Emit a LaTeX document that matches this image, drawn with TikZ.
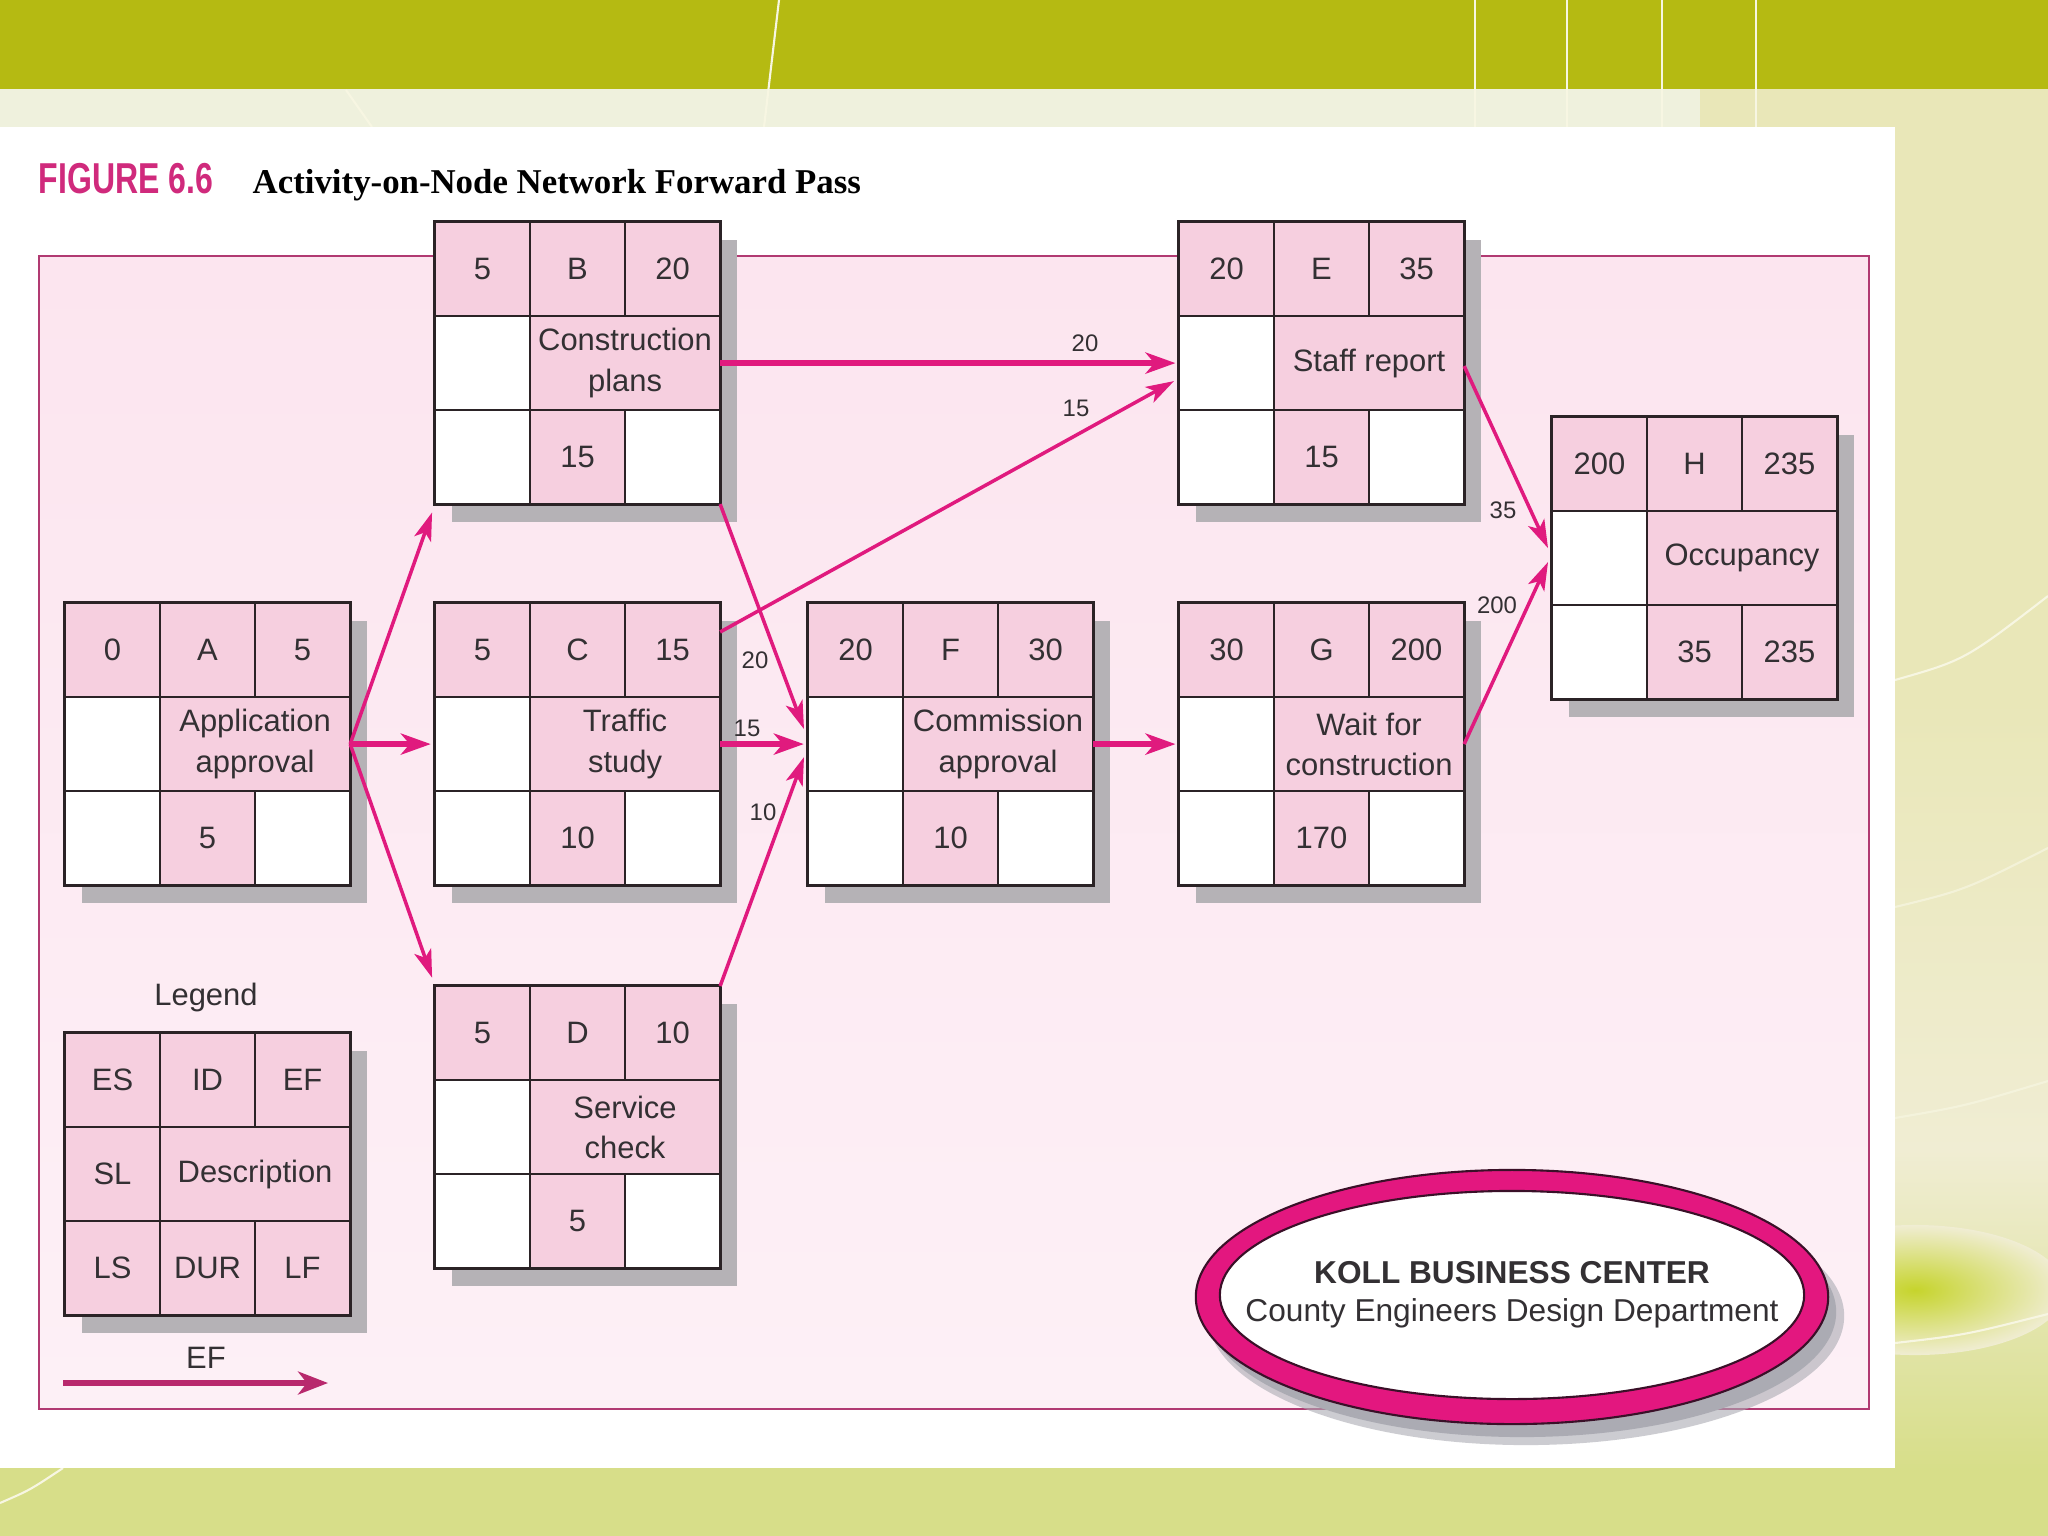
\documentclass[tikz,border=0pt]{standalone}
\usepackage{fontspec}
\setmainfont{Liberation Sans}
\newfontfamily\titleserif{Liberation Serif}
\newfontfamily\figfont[FakeStretch=0.74]{Liberation Sans Bold}
\usetikzlibrary{arrows.meta,calc,shapes.geometric}

\definecolor{olive}{HTML}{B5BA12}
\definecolor{stripc}{HTML}{EFF1DD}
\definecolor{bgR}{HTML}{E9E7B8}
\definecolor{bgR2}{HTML}{F0EDD3}
\definecolor{bgBot}{HTML}{D7DE89}
\definecolor{limec}{HTML}{C6D42C}
\definecolor{wlinec}{HTML}{F7F6E2}
\definecolor{frametop}{HTML}{FCE5EF}
\definecolor{framebot}{HTML}{FDF0F6}
\definecolor{framec}{HTML}{B13A72}
\definecolor{cellpink}{HTML}{F6CFDF}
\definecolor{gridc}{HTML}{2B2326}
\definecolor{shadowc}{HTML}{B5B2B6}
\definecolor{arrowc}{HTML}{E01A7E}
\definecolor{legarrc}{HTML}{B8296D}
\definecolor{figc}{HTML}{D02A7C}
\definecolor{txtc}{HTML}{333033}
\definecolor{ringc}{HTML}{E3177F}
\definecolor{ringline}{HTML}{3A1028}
\definecolor{shadowe}{HTML}{ABABB3}

\newcommand{\cellfont}{\fontsize{8.8}{11.4}\selectfont}

\tikzset{
  cell/.style={draw=gridc, line width=0.8pt, minimum width=0.95cm, minimum height=0.94cm,
    inner sep=0pt, outer sep=0pt, anchor=north west, font=\cellfont, text=txtc, align=center},
  pk/.style={cell, fill=cellpink},
  wh/.style={cell, fill=white},
  wide/.style={minimum width=1.9cm},
  boxframe/.style={draw=gridc, line width=0.9pt, fill=white, minimum width=2.85cm,
    minimum height=2.82cm, inner sep=0pt, outer sep=0pt, anchor=north west},
  thinarr/.style={draw=arrowc, line width=1pt, -{Stealth[length=8pt,width=5pt,inset=2pt]}},
  thickarr/.style={draw=arrowc, line width=1.7pt, -{Stealth[length=8.5pt,width=6pt,inset=2.5pt]}},
  legarr/.style={draw=legarrc, line width=1.9pt, -{Stealth[length=8.5pt,width=6.5pt,inset=2.5pt]}},
  lbl/.style={font=\fontsize{6.8}{8}\selectfont, text=txtc, inner sep=0pt},
  wline/.style={draw=wlinec, line width=0.6pt},
}

% #1 name, #2 x, #3 y (top-left), #4 ES, #5 ID, #6 EF, #7 desc, #8 DUR, #9 LF
\newcommand{\activity}[9]{%
  \fill[shadowc] (#2+17,#3+18) rectangle (#2+302,#3+300);
  \node[boxframe] (#1) at (#2,#3) {};
  \node[pk] (#1es) at (#2,#3) {#4};
  \node[pk] (#1id) at (#2+95,#3) {#5};
  \node[pk] (#1ef) at (#2+190,#3) {#6};
  \node[wh] (#1sl) at (#2,#3+94) {};
  \node[pk,wide] (#1ds) at (#2+95,#3+94) {#7};
  \node[wh] (#1ls) at (#2,#3+188) {};
  \node[pk] (#1du) at (#2+95,#3+188) {#8};
  \if\relax\detokenize{#9}\relax\tikzset{lfcell/.style={wh}}\else\tikzset{lfcell/.style={pk}}\fi
  \node[lfcell] (#1lf) at (#2+190,#3+188) {#9};
}

\begin{document}
\begin{tikzpicture}[x=0.01cm,y=-0.01cm]
\useasboundingbox (0,0) rectangle (2048,1536);

% ---------- background ----------
\fill[bgR] (0,0) rectangle (2048,1536);
\shade[top color=bgR, bottom color=bgR2] (1880,700) rectangle (2048,1150);
\shade[top color=bgR2, bottom color=bgBot] (1880,1150) rectangle (2048,1470);
\shade[inner color=limec, outer color=bgR2] (1915,1290) ellipse [x radius=1.5cm, y radius=0.65cm];
\fill[bgBot] (0,1468) rectangle (2048,1536);
\fill[olive] (0,0) rectangle (2048,89);
\fill[stripc] (0,89) rectangle (1700,127);
\draw[wline] (779,0) -- (764,127);
\draw[wline] (1475,0) -- (1475,127);
\draw[wline] (1567,0) -- (1567,127);
\draw[wline] (1662,0) -- (1662,127);
\draw[wline] (1756,0) -- (1756,127);
\draw[wline] (346,90) -- (372,127);
\draw[wline] (1895,680) .. controls (1965,660) .. (2048,596);
\draw[wline, opacity=0.7] (1895,907) .. controls (1965,890) .. (2048,848);
\draw[wline, opacity=0.7] (1895,1118) .. controls (1965,1106) .. (2048,1081);
\draw[wline] (1895,1343) .. controls (1965,1335) .. (2048,1314);
\draw[wline] (0,1503) .. controls (30,1490) .. (63,1468);
\fill[white] (0,127) rectangle (1895,1468);

% ---------- title ----------
\node[anchor=base west, font=\figfont\fontsize{12.3}{14}\selectfont, text=figc, inner sep=0pt]
  (fig) at (38,193) {FIGURE 6.6};
\node[anchor=base west, font=\titleserif\bfseries\fontsize{9.9}{12}\selectfont, text=black, inner sep=0pt]
  (ttl) at (252,193) {Activity-on-Node Network Forward Pass};

% ---------- frame ----------
\shade[top color=frametop, bottom color=framebot] (39,256) rectangle (1869,1409);
\draw[framec, line width=0.7pt] (39,256) rectangle (1869,1409);

% ---------- activities ----------
\activity{A}{65}{603}{0}{A}{5}{Application\\approval}{5}{}
\activity{B}{435}{222}{5}{B}{20}{Construction\\plans}{15}{}
\activity{C}{435}{603}{5}{C}{15}{Traffic\\study}{10}{}
\activity{D}{435}{986}{5}{D}{10}{Service\\check}{5}{}
\activity{E}{1179}{222}{20}{E}{35}{Staff report}{15}{}
\activity{F}{808}{603}{20}{F}{30}{Commission\\approval}{10}{}
\activity{G}{1179}{603}{30}{G}{200}{Wait for\\construction}{170}{}
\activity{H}{1552}{417}{200}{H}{235}{Occupancy}{35}{235}

% ---------- legend ----------
\node[font=\cellfont, text=txtc] (legtitle) at (206,997) {Legend};
\fill[shadowc] (65+17,1033+18) rectangle (65+302,1033+300);
\node[boxframe] (L) at (65,1033) {};
\node[pk] (Les) at (65,1033) {ES};
\node[pk] (Lid) at (160,1033) {ID};
\node[pk] (Lef) at (255,1033) {EF};
\node[pk] (Lsl) at (65,1127) {SL};
\node[pk,wide] (Lds) at (160,1127) {Description};
\node[pk] (Lls) at (65,1221) {LS};
\node[pk] (Ldu) at (160,1221) {DUR};
\node[pk] (Llf) at (255,1221) {LF};
\coordinate (legS) at (63,1383);
\coordinate (legE) at (328,1383);
\draw[legarr] (legS) -- (legE);
\node[font=\cellfont, text=txtc] (legEF) at (206,1358) {EF};

% ---------- connectors ----------
\coordinate (ceS) at ($(C.north east)+(0,29)$);
\coordinate (ceE) at ($(E.west)+(-5,18)$);
\coordinate (bfE) at ($(F.west)+(-4,-15)$);
\coordinate (dfE) at ($(F.west)+(-4,13)$);
\coordinate (ehS) at ($(E.east)+(0,3)$);
\coordinate (ehE) at ($(H.west)+(-4,-10)$);
\coordinate (ghE) at ($(H.west)+(-4,4)$);

\draw[thinarr, shorten >=2.5pt] (A.east) -- (B.south west);
\draw[thickarr, shorten >=1.2pt] (A.east) -- (C.west);
\draw[thinarr, shorten >=2.5pt] (A.east) -- (D.north west);
\draw[thickarr, shorten >=1pt] (B.east) -- (E.west);
\draw[thinarr] (ceS) -- (ceE);
\draw[thinarr] (B.south east) -- (bfE);
\draw[thickarr, shorten >=1.2pt] (C.east) -- (F.west);
\draw[thinarr] (D.north east) -- (dfE);
\draw[thickarr, shorten >=1pt] (F.east) -- (G.west);
\draw[thinarr] (ehS) -- (ehE);
\draw[thinarr] (G.east) -- (ghE);

\node[lbl] (l1) at (1085,343) {20};
\node[lbl] (l2) at (1076,408) {15};
\node[lbl] (l3) at (755,660) {20};
\node[lbl] (l4) at (747,728) {15};
\node[lbl] (l5) at (763,812) {10};
\node[lbl] (l6) at (1503,510) {35};
\node[lbl] (l7) at (1497,605) {200};

% ---------- logo ellipse ----------
\fill[shadowe, opacity=0.6] (1526,1316) ellipse [x radius=3.18cm, y radius=1.29cm];
\fill[shadowe] (1522,1312) ellipse [x radius=3.14cm, y radius=1.25cm];
\filldraw[fill=ringc, draw=ringline, line width=0.6pt] (1512,1297) ellipse [x radius=3.16cm, y radius=1.27cm];
\filldraw[fill=white, draw=ringline, line width=0.6pt] (1512,1295) ellipse [x radius=2.92cm, y radius=1.04cm];
\node[font=\bfseries\fontsize{9}{11}\selectfont, text=txtc, inner sep=0pt] (logo1) at (1512,1273) {KOLL BUSINESS CENTER};
\node[font=\fontsize{9}{11}\selectfont, text=txtc, inner sep=0pt] (logo2) at (1512,1313) {County Engineers Design Department};
\end{tikzpicture}
\end{document}
